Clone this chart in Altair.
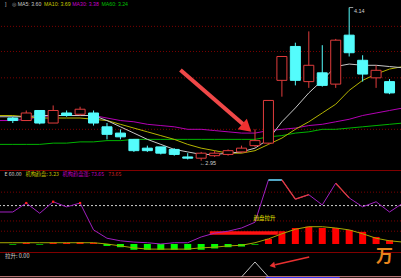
import altair as alt
import pandas as pd

# ---------------- data ----------------
candle_idx = list(range(29))
opens  = [3.26, 3.24, 3.32, 3.22, 3.30, 3.29, 3.30, 3.19, 3.14, 3.09, 3.02, 3.03, 3.01, 2.95, 2.94,
          2.96, 2.97, 2.99, 3.04, 3.06, 3.56, 3.83, 3.55, 3.62, 3.53, 3.92, 3.72, 3.58, 3.55]
closes = [3.24, 3.30, 3.22, 3.32, 3.28, 3.33, 3.22, 3.13, 3.11, 3.00, 3.00, 2.98, 2.97, 2.94, 2.98,
          2.98, 3.00, 3.02, 3.08, 3.40, 3.75, 3.56, 3.68, 3.52, 3.88, 3.78, 3.61, 3.64, 3.46]
highs  = [3.27, 3.32, 3.32, 3.36, 3.32, 3.35, 3.32, 3.22, 3.17, 3.09, 3.04, 3.03, 3.02, 2.98, 2.99,
          3.00, 3.01, 3.04, 3.17, 3.40, 3.75, 3.86, 3.95, 3.84, 3.89, 4.14, 3.76, 3.68, 3.57]
lows   = [3.22, 3.24, 3.21, 3.22, 3.27, 3.28, 3.20, 3.09, 3.09, 2.99, 2.99, 2.97, 2.96, 2.93, 2.92,
          2.95, 2.96, 2.98, 3.03, 3.05, 3.43, 3.52, 3.50, 3.51, 3.50, 3.75, 3.55, 3.50, 3.45]

line_idx = list(range(-1, 30))
ma5  = [3.27, 3.27, 3.27, 3.28, 3.28, 3.28, 3.28, 3.28, 3.24, 3.19, 3.14, 3.09, 3.05, 3.01, 2.99, 2.97,
        2.97, 2.98, 2.99, 3.02, 3.09, 3.23, 3.34, 3.46, 3.56, 3.67, 3.69, 3.68, 3.68, 3.67, 3.66]
ma10 = [3.28, 3.28, 3.27, 3.26, 3.26, 3.26, 3.26, 3.25, 3.24, 3.21, 3.18, 3.15, 3.12, 3.09, 3.05, 3.02,
        3.00, 2.98, 2.98, 3.00, 3.05, 3.10, 3.17, 3.23, 3.30, 3.37, 3.48, 3.56, 3.61, 3.65, 3.67]
ma30 = [3.24, 3.24, 3.25, 3.27, 3.28, 3.28, 3.28, 3.28, 3.26, 3.24, 3.23, 3.21, 3.20, 3.19, 3.17, 3.17,
        3.16, 3.15, 3.14, 3.14, 3.16, 3.17, 3.18, 3.20, 3.21, 3.23, 3.25, 3.28, 3.30, 3.32, 3.34]
ma60 = [3.05, 3.05, 3.05, 3.05, 3.06, 3.06, 3.07, 3.07, 3.08, 3.08, 3.09, 3.09, 3.09, 3.09, 3.09, 3.09,
        3.09, 3.09, 3.09, 3.09, 3.11, 3.12, 3.14, 3.15, 3.17, 3.17, 3.18, 3.19, 3.20, 3.21, 3.22]

ctrl_line = [50, 50, 64, 48, 66, 58, 64, 22, 9, 5, 3, 2, 0, 2, 2, 11, 17, 20, 25, 34, 100, 100, 70, 77,
             61, 95, 72, 58, 66, 50, 64]
trend_line = [2, 2, 2, 2, 2, 2, 2, 2, 0, -3, -6, -8, -8, -8, -8, -6, -5, -3, -2, 2, 8, 16, 23, 27, 27,
              25, 22, 16, 9, 5, 3]
hist_vals = [-1, 2, -1, 2, 2, 3, 2, -3, -5, -9, -9, -9, -9, -9, -9, -7, -5, -4, -1, 8, 20, 25, 27, 25,
             25, 22, 19, 11, 6]
peak_idx = [1, 3, 5]
signal_idx = [17, 18, 19]
signal_vals = [0, 1, 0]
top_grid = [3.99, 3.79, 3.58, 3.17]
mid_dotted = [81, 36, 20]
mid_level = [60]

# ---------------- scales ----------------
RED = "#e03c3c"
CYAN = "#54fcfc"
FONT = "Liberation Sans"
CJK = "Noto Sans CJK SC"

xs = alt.Scale(domain=[-0.58, 28.48], nice=False, zero=False)
ys_top = alt.Scale(domain=[2.846, 4.2], range=[170, 0], nice=False, zero=False)
ys_mid = alt.Scale(domain=[-14.06, 115.6], range=[253, 170], nice=False, zero=False)
ys_bot = alt.Scale(domain=[-0.067, 1.6], range=[278, 253], nice=False, zero=False)


def X(f="x"):
    return alt.X(f"{f}:Q", scale=xs, axis=None)


def Y(f, sc):
    return alt.Y(f"{f}:Q", scale=sc, axis=None)


cdf = pd.DataFrame({"i": candle_idx, "open": opens, "close": closes, "high": highs, "low": lows})
cdf["dir"] = ["up" if c >= o else "down" for o, c in zip(opens, closes)]

ldf = pd.DataFrame({"i": line_idx, "ma5": ma5, "ma10": ma10, "ma30": ma30, "ma60": ma60,
                    "ctrl": ctrl_line, "trend": trend_line})

layers = []

# grid (top panel)
layers.append(alt.Chart(pd.DataFrame({"p": top_grid})).mark_rule(
    color="#7a0000", strokeDash=[1, 2], strokeWidth=1).encode(y=Y("p", ys_top)))

# MA lines
for col, colr in [("ma60", "#00b400"), ("ma30", "#b400b4"), ("ma10", "#b4b400"), ("ma5", "#c8c8c8")]:
    layers.append(alt.Chart(ldf).mark_line(color=colr, strokeWidth=1).encode(
        x=X("i"), y=Y(col, ys_top)))

dir_scale = alt.Scale(domain=["up", "down"], range=[RED, CYAN])
fill_scale = alt.Scale(domain=["up", "down"], range=["#000000", CYAN])

layers.append(alt.Chart(cdf).mark_rule(strokeWidth=1).encode(
    x=X("i"), y=Y("low", ys_top), y2="high",
    color=alt.Color("dir:N", scale=dir_scale, legend=None)))
layers.append(alt.Chart(cdf).mark_bar(size=10, strokeWidth=1).encode(
    x=X("i"), y=Y("open", ys_top), y2="close",
    fill=alt.Fill("dir:N", scale=fill_scale, legend=None),
    stroke=alt.Stroke("dir:N", scale=dir_scale, legend=None)))

# top header text
hdr = pd.DataFrame({
    "x": [-0.58, -0.07, 0.36, 2.32, 4.42, 6.59],
    "y": [4.172] * 6,
    "t": ["]", "◎", "MA5: 3.60", "MA10: 3.69", "MA30: 3.38", "MA60: 3.24"],
    "c": ["#c0c0c0", "#a0a0a0", "#c8c8c8", "#c8c800", "#c800c8", "#00c000"],
})
layers.append(alt.Chart(hdr).mark_text(align="left", baseline="middle", font=FONT, fontSize=5.2).encode(
    x=X("x"), y=Y("y", ys_top), text="t:N", color=alt.Color("c:N", scale=None)))

# high / low labels
layers.append(alt.Chart(pd.DataFrame({"x": [25.0, 25.3], "y": [4.14, 4.14]})).mark_line(
    color="#c0c0c0", strokeWidth=0.8).encode(x=X("x"), y=Y("y", ys_top)))
layers.append(alt.Chart(pd.DataFrame({"x": [25.35], "y": [4.115], "t": ["4.14"]})).mark_text(
    align="left", baseline="middle", font=FONT, fontSize=5.5, color="#d0d0d0").encode(
    x=X("x"), y=Y("y", ys_top), text="t:N"))
layers.append(alt.Chart(pd.DataFrame({"x": [13.9], "y": [2.905], "t": ["←2.95"]})).mark_text(
    align="left", baseline="middle", font=FONT, fontSize=5.5, color="#d0d0d0").encode(
    x=X("x"), y=Y("y", ys_top), text="t:N"))

# big red arrow (top panel)
layers.append(alt.Chart(pd.DataFrame({"x": [12.46, 17.1], "y": [3.642, 3.212]})).mark_line(
    color="#f04848", strokeWidth=4).encode(x=X("x"), y=Y("y", ys_top)))
layers.append(alt.Chart(pd.DataFrame({"x": [17.39], "y": [3.181]})).mark_point(
    shape="triangle-up", angle=131, size=190, filled=True, color="#f03030", opacity=1).encode(
    x=X("x"), y=Y("y", ys_top)))

# ---------------- middle panel ----------------
layers.append(alt.Chart(pd.DataFrame({"v": [114.8, -13.3]})).mark_rule(
    color="#800000", strokeWidth=1).encode(y=Y("v", ys_mid)))
layers.append(alt.Chart(pd.DataFrame({"v": mid_dotted})).mark_rule(
    color="#7a0000", strokeDash=[1, 2], strokeWidth=1).encode(y=Y("v", ys_mid)))
layers.append(alt.Chart(pd.DataFrame({"v": mid_level})).mark_rule(
    color="#d0d0d0", strokeDash=[2, 2], strokeWidth=1).encode(y=Y("v", ys_mid)))

hdf = pd.DataFrame({"i": candle_idx, "v": hist_vals})
layers.append(alt.Chart(hdf).mark_bar(size=7).encode(
    x=X("i"), y=Y("v", ys_mid), y2=alt.datum(0),
    color=alt.condition(alt.datum.v > 0, alt.value("#ff0000"), alt.value("#00ff00"))))

layers.append(alt.Chart(pd.DataFrame({"x": [14.64], "x2": [19.7], "v": [17]})).mark_rule(
    color="#ff1010", strokeWidth=3.5).encode(x=X("x"), x2="x2", y=Y("v", ys_mid)))

layers.append(alt.Chart(ldf).mark_line(color="#a8a800", strokeWidth=1).encode(
    x=X("i"), y=Y("trend", ys_mid)))
layers.append(alt.Chart(ldf).mark_line(color="#a020c0", strokeWidth=1).encode(
    x=X("i"), y=Y("ctrl", ys_mid)))

# red / dark red segments of the control line where it stays high
segs = []
for k in range(len(line_idx) - 1):
    a, b = ctrl_line[k], ctrl_line[k + 1]
    if a >= 69 and b >= 69:
        shade = "dark" if (a >= 99 and b >= 99) else "red"
        segs.append({"i": line_idx[k], "v": a, "s": k, "shade": shade})
        segs.append({"i": line_idx[k + 1], "v": b, "s": k, "shade": shade})
sdf = pd.DataFrame(segs)
layers.append(alt.Chart(sdf).mark_line(strokeWidth=1.3).encode(
    x=X("i"), y=Y("v", ys_mid), detail="s:N",
    color=alt.Color("shade:N", scale=alt.Scale(domain=["red", "dark"], range=["#ff1818", "#a00000"]),
                    legend=None)))

pdf = pd.DataFrame({"i": peak_idx, "v": [ctrl_line[p + 1] for p in peak_idx]})
layers.append(alt.Chart(pdf).mark_square(size=5, color="#ff2020", opacity=1).encode(
    x=X("i"), y=Y("v", ys_mid)))

mid_txt = pd.DataFrame({
    "x": [-0.62, 0.94, 3.7, 7.1],
    "v": [109.4] * 4,
    "t": ["E 60.00", "机构趋盘: 3.23", "机构趋盘涨: 73.65", "73.65"],
    "c": ["#d0d0d0", "#c8c800", "#c000c0", "#d02020"],
})
layers.append(alt.Chart(mid_txt).mark_text(align="left", baseline="middle", font=CJK, fontSize=5.2).encode(
    x=X("x"), y=Y("v", ys_mid), text="t:N", color=alt.Color("c:N", scale=None)))
layers.append(alt.Chart(pd.DataFrame({"x": [18.7], "v": [40], "t": ["趋盘拉升"]})).mark_text(
    align="center", baseline="middle", font=CJK, fontSize=5.5, color="#e8e800").encode(
    x=X("x"), y=Y("v", ys_mid), text="t:N"))

# ---------------- bottom panel ----------------
layers.append(alt.Chart(pd.DataFrame({"v": [0.02]})).mark_rule(
    color="#e09090", strokeWidth=1).encode(y=Y("v", ys_bot)))
layers.append(alt.Chart(pd.DataFrame({"x": [18.8], "x2": [24.3], "v": [-0.04]})).mark_rule(
    color="#3030ff", strokeWidth=1).encode(x=X("x"), x2="x2", y=Y("v", ys_bot)))
layers.append(alt.Chart(pd.DataFrame({"i": signal_idx, "v": signal_vals})).mark_line(
    color="#c0c0c0", strokeWidth=1).encode(x=X("i"), y=Y("v", ys_bot)))
layers.append(alt.Chart(pd.DataFrame({"x": [-0.58], "v": [1.4], "t": ["拉升: 0.00"]})).mark_text(
    align="left", baseline="middle", font=CJK, fontSize=5.5, color="#d0d0d0").encode(
    x=X("x"), y=Y("v", ys_bot), text="t:N"))
layers.append(alt.Chart(pd.DataFrame({"x": [22.03, 19.5], "v": [1.33, 0.82]})).mark_line(
    color="#e83030", strokeWidth=1.6).encode(x=X("x"), y=Y("v", ys_bot)))
layers.append(alt.Chart(pd.DataFrame({"x": [19.28], "v": [0.77]})).mark_point(
    shape="triangle-up", angle=257, size=40, filled=True, color="#e83030", opacity=1).encode(
    x=X("x"), y=Y("v", ys_bot)))
layers.append(alt.Chart(pd.DataFrame({"x": [27.0], "v": [1.3], "t": ["万"]})).mark_text(
    align="left", baseline="middle", font=CJK, fontSize=17, fontWeight="bold", color="#e8841c").encode(
    x=X("x"), y=Y("v", ys_bot), text="t:N"))

chart = alt.layer(*layers).resolve_scale(y="independent").properties(
    width=401, height=278, background="#000000", padding=0,
    autosize=alt.AutoSizeParams(type="none"),
).configure_view(stroke=None)

chart.save("out.html", embed_options={"renderer": "svg", "actions": False})
